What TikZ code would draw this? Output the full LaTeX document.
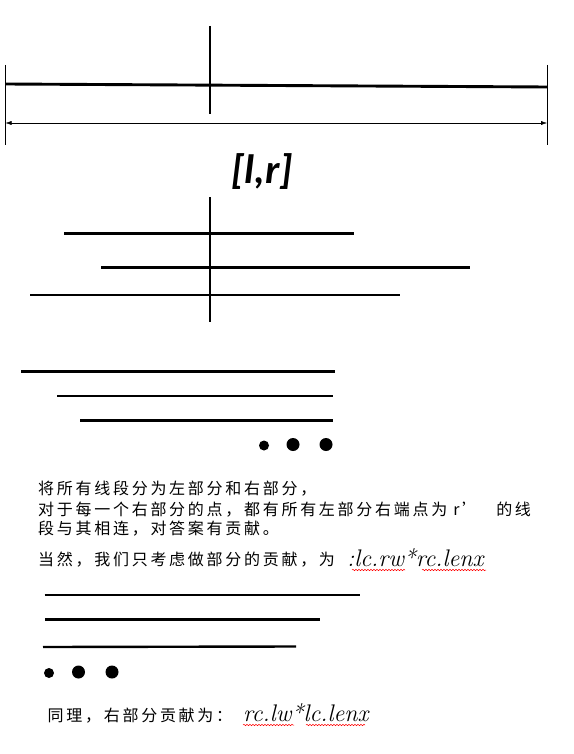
\documentclass[tikz,border=0pt]{standalone}
\usepackage{fontspec}
\newfontfamily\cjk[LetterSpace=17]{Noto Sans CJK SC}
\newfontfamily\labelfont{Carlito}
\usetikzlibrary{arrows.meta,decorations.pathmorphing}

\begin{document}
\begin{tikzpicture}[x=1pt,y=-1pt,
        seg line/.style={line width=2.4pt},
        divider/.style={line width=1.1pt},
        pt dot/.style={circle,fill=black,inner sep=0pt,minimum size=#1},
        note/.style={anchor=base west,inner sep=0pt,font=\cjk\fontsize{16}{19}\selectfont},
        formula/.style={anchor=base west,inner sep=0pt,font=\fontsize{24}{28}\selectfont\itshape},
        squiggle/.style={red,line width=0.5pt,decorate,
            decoration={snake,amplitude=0.7pt,segment length=3pt}}]
        \useasboundingbox (0,0) rectangle (573,754);
        % The whole interval
        \draw [seg line,line width=2.9pt] (5.5,84) coordinate (l end) -- (547,87) coordinate (r end);
        % The cut in the middle
        \draw [divider] (210,26) -- (210,114);
        % The end marks
        \draw [thin] (5.5,65) -- (5.5,145);
        \draw [thin] (547,65) -- (547,145);
        % The span arrow
        \draw [thin,{Latex[length=6pt,width=4pt]}-{Latex[length=6pt,width=4pt]}]
            (5.5,123) coordinate (span start) -- (547,123) coordinate (span end);
        \node (range) at (262,172)
            {\labelfont\bfseries\itshape\fontsize{41}{41}\selectfont [l,r]};
        % Segments through the cut
        \draw [divider] (210,197) -- (210,322);
        \draw [seg line] (64,233.5) -- (354,233.5);
        \draw [seg line] (101,267.5) -- (470,267.5);
        \draw [seg line] (30,295) -- (400,295);
        % Segments of the left part
        \draw [seg line] (21,371.5) -- (335,371.5);
        \draw [seg line] (57,396) -- (333,396);
        \draw [seg line] (80,420.5) -- (333,420.5);
        \node [pt dot=10pt] (left dot a) at (264,445.5) {};
        \node [pt dot=13pt] (left dot b) at (293,444.5) {};
        \node [pt dot=13pt] (left dot c) at (326,444.5) {};
        % The explanation
        \node [note] (line one) at (38,494.5) {将所有线段分为左部分和右部分，};
        \node [note] (line two) at (38,515)
            {对于每一个右部分的点，都有所有左部分右端点为\hspace{6pt}r’\hspace{18pt}的线};
        \node [note] (line three) at (38,534.5) {段与其相连，对答案有贡献。};
        \node [note] (line four) at (38,565) {当然，我们只考虑做部分的贡献，为};
        \node [formula] (left sum) at (347,566) {:lc.rw*rc.lenx};
        \draw [squiggle] (352,570) -- (405,570);
        \draw [squiggle] (422,570) -- (486,570);
        % Segments of the right part
        \draw [seg line] (44.5,595) -- (360,595);
        \draw [seg line] (45,619.5) -- (320,619.5);
        \draw [seg line] (43,647) -- (296,646.5);
        \node [pt dot=10pt] (right dot a) at (49,673) {};
        \node [pt dot=13pt] (right dot b) at (78.5,672) {};
        \node [pt dot=13pt] (right dot c) at (112,672) {};
        \node [note] (line five) at (47.5,721) {同理，右部分贡献为：};
        \node [formula] (right sum) at (243,721.7) {rc.lw*lc.lenx};
        \draw [squiggle] (243,725) -- (294,725);
        \draw [squiggle] (306,725) -- (365,725);
    \end{tikzpicture}
\end{document}
